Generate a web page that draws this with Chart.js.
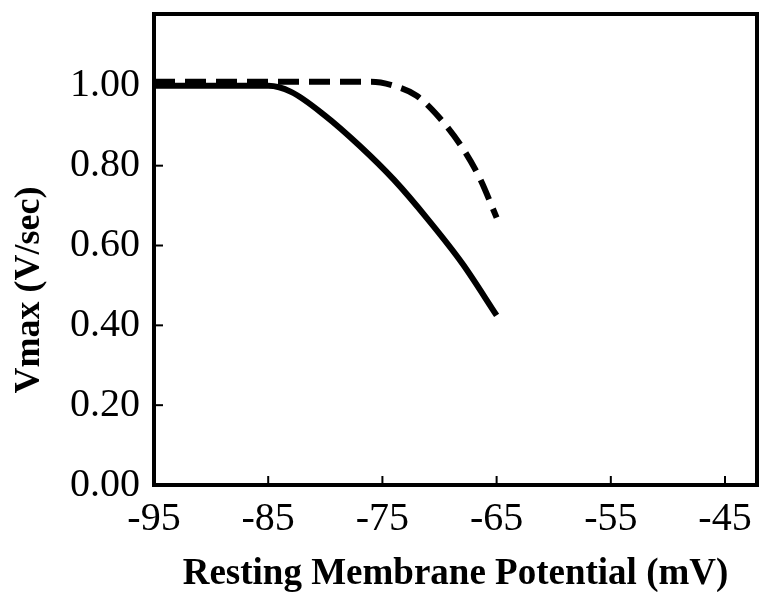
<!DOCTYPE html>
<html>
<head>
<meta charset="utf-8">
<script src="https://cdn.jsdelivr.net/npm/chart.js@4.4.1/dist/chart.umd.min.js"></script>
<style>
  html, body { margin: 0; padding: 0; background: #fff; }
  #wrap { width: 759px; height: 592px; }
</style>
</head>
<body>
<div id="wrap"><canvas id="vmaxChart" width="759" height="592"></canvas></div>
<script>
// ---- data ----
const solidX = [-95, -85, -83, -80, -77, -74, -71, -68, -65];
const solidY = [1.00, 1.00, 0.985, 0.925, 0.85, 0.765, 0.665, 0.555, 0.425];

const dashX = [-95, -76, -74, -72, -70, -68, -66.5, -65];
const dashY = [1.01, 1.01, 1.00, 0.975, 0.92, 0.845, 0.77, 0.67];

const xTicks = [-95, -85, -75, -65, -55, -45];
const yTicks = [0, 0.2, 0.4, 0.6, 0.8, 1.0];

const xTitle = 'Resting Membrane Potential (mV)';
const yTitle = 'Vmax (V/sec)';

const SERIF = '"Liberation Serif", "DejaVu Serif", serif';

const toPoints = (xs, ys) => xs.map((x, i) => ({ x: x, y: ys[i] }));

// frame, inward ticks and rotated y title
const framePlugin = {
  id: 'frame',
  afterDraw(chart) {
    const { ctx, chartArea: a, scales } = chart;
    ctx.save();
    ctx.strokeStyle = '#000';
    ctx.lineWidth = 2;
    xTicks.forEach(v => {
      const px = scales.x.getPixelForValue(v);
      ctx.beginPath();
      ctx.moveTo(px, a.bottom);
      ctx.lineTo(px, a.bottom - 9);
      ctx.stroke();
    });
    yTicks.forEach(v => {
      const py = scales.y.getPixelForValue(v);
      ctx.beginPath();
      ctx.moveTo(a.left, py);
      ctx.lineTo(a.left + 9, py);
      ctx.stroke();
    });
    ctx.lineWidth = 4;
    ctx.strokeRect(a.left, a.top, a.right - a.left, a.bottom - a.top);

    ctx.translate(30, 290);
    ctx.rotate(-Math.PI / 2);
    ctx.fillStyle = '#000';
    ctx.font = 'bold 36px ' + SERIF;
    ctx.textAlign = 'center';
    ctx.textBaseline = 'middle';
    ctx.fillText(yTitle, 0, 0);
    ctx.restore();
  }
};

const ctx = document.getElementById('vmaxChart').getContext('2d');
const vmaxChart = new Chart(ctx, {
  type: 'line',
  data: {
    datasets: [
      {
        label: 'solid',
        data: toPoints(solidX, solidY),
        borderColor: '#000',
        borderWidth: 6,
        pointRadius: 0,
        cubicInterpolationMode: 'monotone',
        fill: false
      },
      {
        label: 'dashed',
        data: toPoints(dashX, dashY),
        borderColor: '#000',
        borderWidth: 6,
        borderDash: [21, 10],
        pointRadius: 0,
        cubicInterpolationMode: 'monotone',
        fill: false
      }
    ]
  },
  options: {
    responsive: false,
    animation: false,
    layout: { padding: { top: 14, right: 2, left: 0, bottom: 0 } },
    plugins: { legend: { display: false }, tooltip: { enabled: false } },
    scales: {
      x: {
        type: 'linear',
        min: -95,
        max: -42.2,
        afterBuildTicks: (scale) => { scale.ticks = xTicks.map(v => ({ value: v })); },
        afterFit: (scale) => {
          scale.height = 107;
          scale.paddingLeft = 0;
          scale.paddingRight = 0;
        },
        grid: { display: false, drawTicks: false },
        border: { display: false },
        ticks: {
          color: '#000',
          font: { family: SERIF, size: 40 },
          padding: 10,
          maxRotation: 0,
          autoSkip: false,
          callback: (v) => String(v)
        },
        title: {
          display: true,
          text: xTitle,
          color: '#000',
          font: { family: SERIF, size: 37, weight: 'bold' },
          padding: { top: 0, bottom: -5 }
        }
      },
      y: {
        type: 'linear',
        min: 0,
        max: 1.18,
        afterBuildTicks: (scale) => { scale.ticks = yTicks.map(v => ({ value: v })); },
        afterFit: (scale) => {
          scale.width = 154;
          scale.paddingTop = 0;
          scale.paddingBottom = 0;
        },
        grid: { display: false, drawTicks: false },
        border: { display: false },
        ticks: {
          color: '#000',
          font: { family: SERIF, size: 40 },
          padding: 14,
          autoSkip: false,
          callback: (v) => v.toFixed(2)
        }
      }
    }
  },
  plugins: [framePlugin]
});
</script>
</body>
</html>
